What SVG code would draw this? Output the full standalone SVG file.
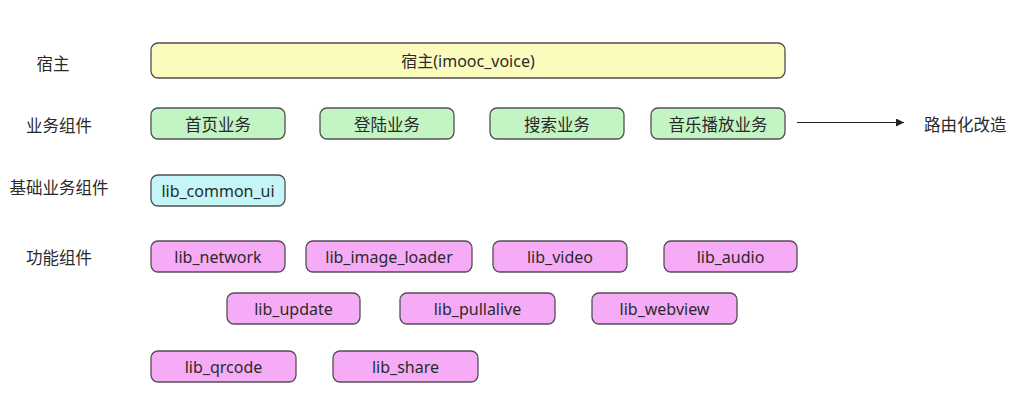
<svg xmlns="http://www.w3.org/2000/svg" width="1020" height="406" viewBox="0 0 1020 406">
<style>
.box{stroke:#505050;stroke-width:1.3}
.host{fill:#fbfbbd}
.biz{fill:#c3f4c3}
.base{fill:#c4f6f7}
.func{fill:#f6abf7}
text{font-family:"Noto Sans","Noto Sans CJK SC",sans-serif;font-size:16px;fill:#2a2a2a;dominant-baseline:central}
.cjk{font-size:16.5px}
.c{text-anchor:middle}
.lab{text-anchor:middle}
</style>
<defs>
<marker id="arr" viewBox="0 0 10 10" refX="10" refY="5" markerWidth="10" markerHeight="8" markerUnits="userSpaceOnUse" orient="auto">
<path d="M0,0 L10,5 L0,10 z" fill="#222"/>
</marker>
</defs>
<rect width="1020" height="406" fill="#ffffff"/>
<g id="labels">
<text class="lab cjk" x="53" y="63">宿主</text>
<text class="lab cjk" x="59" y="125">业务组件</text>
<text class="lab cjk" x="59" y="187">基础业务组件</text>
<text class="lab cjk" x="59" y="257">功能组件</text>
</g>
<g id="host"><rect class="box host" x="151" y="43" width="634" height="35" rx="7"/><text class="c" x="468" y="61">宿主(imooc_voice)</text></g>
<g id="home"><rect class="box biz" x="151" y="108" width="134" height="31" rx="7"/><text class="c cjk" x="218" y="124">首页业务</text></g>
<g id="login"><rect class="box biz" x="320" y="108" width="134" height="31" rx="7"/><text class="c cjk" x="387" y="124">登陆业务</text></g>
<g id="search"><rect class="box biz" x="490" y="108" width="134" height="31" rx="7"/><text class="c cjk" x="557" y="124">搜索业务</text></g>
<g id="music"><rect class="box biz" x="651" y="108" width="134" height="31" rx="7"/><text class="c cjk" x="718" y="124">音乐播放业务</text></g>
<g id="router"><text class="cjk" x="924" y="124">路由化改造</text></g>
<g id="common_ui"><rect class="box base" x="151" y="175" width="134" height="31" rx="7"/><text class="c" x="218" y="191">lib_common_ui</text></g>
<g id="network"><rect class="box func" x="151" y="241" width="134" height="31" rx="7"/><text class="c" x="218" y="257">lib_network</text></g>
<g id="image_loader"><rect class="box func" x="306" y="241" width="166" height="31" rx="7"/><text class="c" x="389" y="257">lib_image_loader</text></g>
<g id="video"><rect class="box func" x="493" y="241" width="134" height="31" rx="7"/><text class="c" x="560" y="257">lib_video</text></g>
<g id="audio"><rect class="box func" x="664" y="241" width="133" height="31" rx="7"/><text class="c" x="730.5" y="257">lib_audio</text></g>
<g id="update"><rect class="box func" x="227" y="293" width="133" height="31" rx="7"/><text class="c" x="293.5" y="309">lib_update</text></g>
<g id="pullalive"><rect class="box func" x="400" y="293" width="155" height="31" rx="7"/><text class="c" x="477.5" y="309">lib_pullalive</text></g>
<g id="webview"><rect class="box func" x="592" y="293" width="145" height="31" rx="7"/><text class="c" x="664.5" y="309">lib_webview</text></g>
<g id="qrcode"><rect class="box func" x="151" y="351" width="145" height="31" rx="7"/><text class="c" x="223.5" y="367">lib_qrcode</text></g>
<g id="share"><rect class="box func" x="333" y="351" width="145" height="31" rx="7"/><text class="c" x="405.5" y="367">lib_share</text></g>
<g id="connectors">
<line x1="797" y1="122.5" x2="904" y2="122.5" stroke="#222" stroke-width="1.2" marker-end="url(#arr)"/>
</g>
</svg>
